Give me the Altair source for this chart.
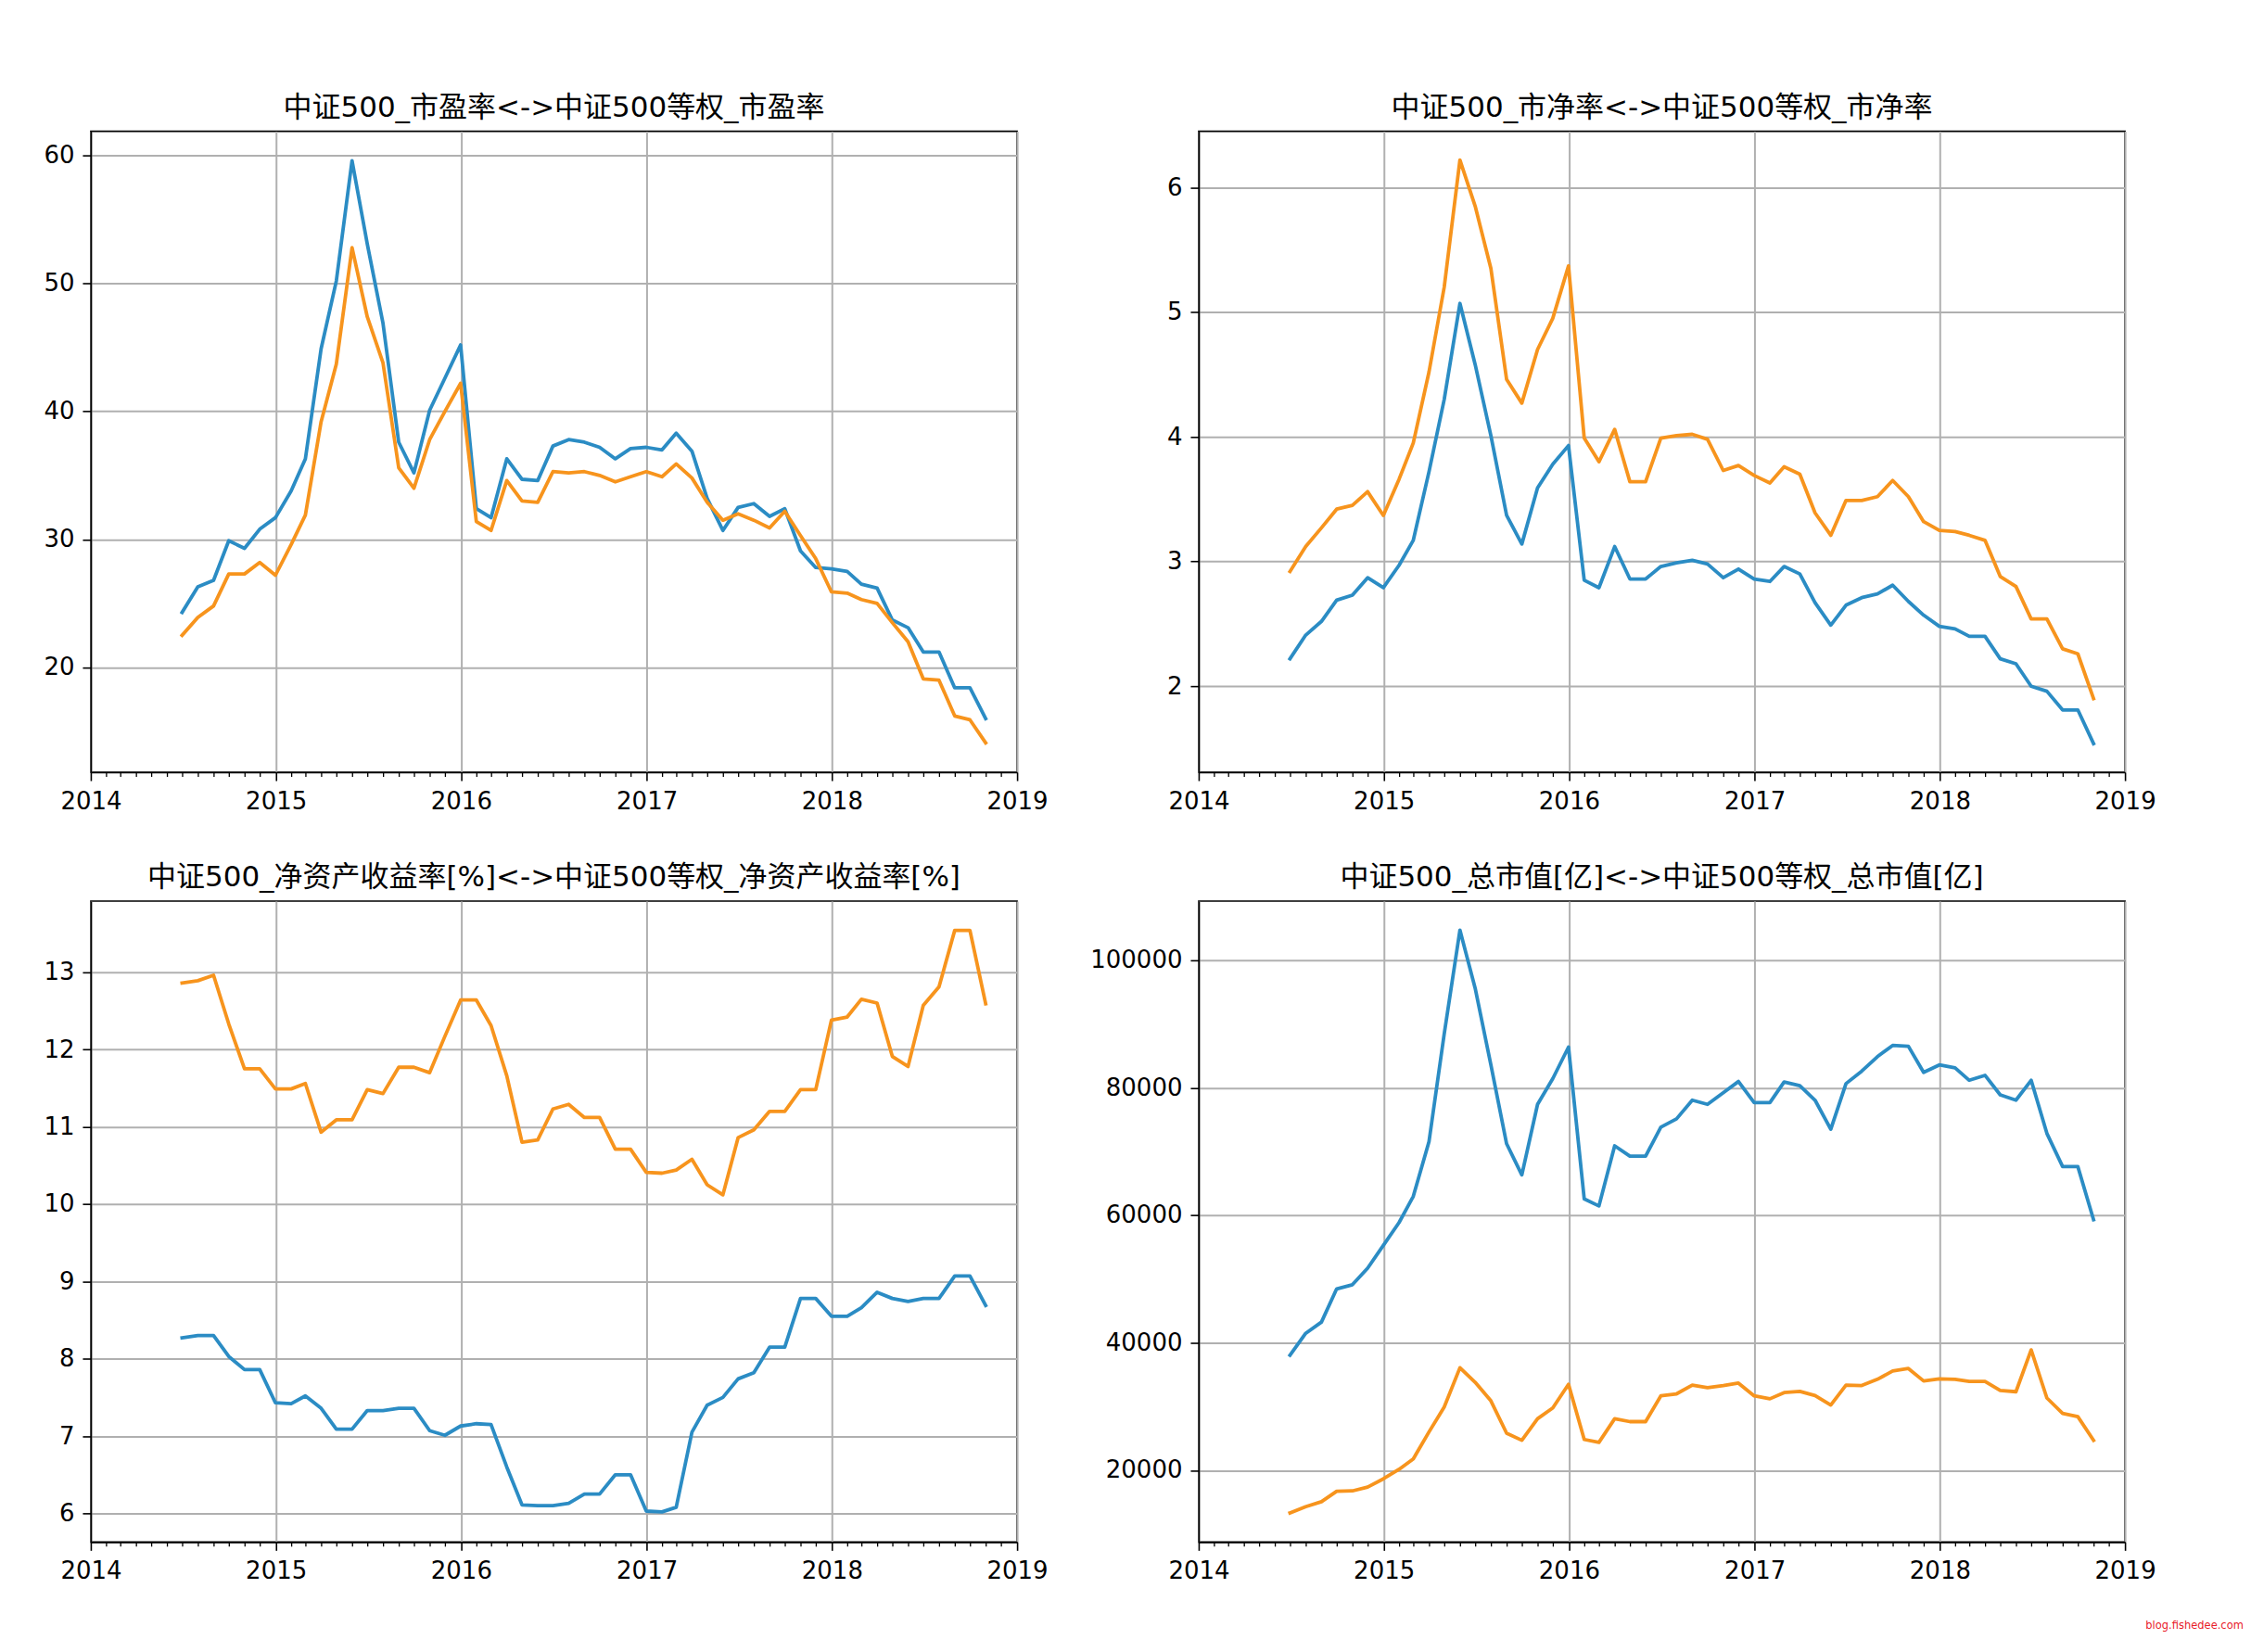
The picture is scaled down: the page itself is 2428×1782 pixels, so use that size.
import altair as alt
import pandas as pd

# ---------------- data ----------------
dates = [
    "2014-06-30", "2014-07-31", "2014-08-31", "2014-09-30", "2014-10-31", "2014-11-30", "2014-12-31",
    "2015-01-31", "2015-02-28", "2015-03-31", "2015-04-30", "2015-05-31", "2015-06-30",
    "2015-07-31", "2015-08-31", "2015-09-30", "2015-10-31", "2015-11-30", "2015-12-31",
    "2016-01-31", "2016-02-29", "2016-03-31", "2016-04-30", "2016-05-31", "2016-06-30",
    "2016-07-31", "2016-08-31", "2016-09-30", "2016-10-31", "2016-11-30", "2016-12-31",
    "2017-01-31", "2017-02-28", "2017-03-31", "2017-04-30", "2017-05-31", "2017-06-30",
    "2017-07-31", "2017-08-31", "2017-09-30", "2017-10-31", "2017-11-30", "2017-12-31",
    "2018-01-31", "2018-02-28", "2018-03-31", "2018-04-30", "2018-05-31", "2018-06-30",
    "2018-07-31", "2018-08-31", "2018-09-30", "2018-10-31",
]

pe_500 = [24.3, 26.3, 26.8, 29.9, 29.3, 30.8, 31.7, 33.8, 36.3, 44.9, 50.2, 59.6, 53.1,
          46.9, 37.6, 35.2, 40.1, 42.6, 45.2, 32.4, 31.7, 36.3, 34.7, 34.6, 37.3,
          37.8, 37.6, 37.2, 36.3, 37.1, 37.2, 37.0, 38.3, 36.9, 33.2, 30.7, 32.5,
          32.8, 31.8, 32.4, 29.1, 27.8, 27.7, 27.5, 26.5, 26.2, 23.7, 23.1, 21.2,
          21.2, 18.4, 18.4, 16.0]
pe_eq = [22.5, 23.9, 24.8, 27.3, 27.3, 28.2, 27.2, 29.6, 31.9, 39.2, 43.7, 52.8, 47.4,
         43.8, 35.6, 34.0, 37.8, 40.0, 42.2, 31.4, 30.7, 34.6, 33.0, 32.9, 35.3,
         35.2, 35.3, 35.0, 34.5, 34.9, 35.3, 34.9, 35.9, 34.8, 32.9, 31.5, 32.0,
         31.5, 30.9, 32.2, 30.3, 28.5, 25.9, 25.8, 25.3, 25.0, 23.5, 22.0, 19.1,
         19.0, 16.2, 15.9, 14.1]

pb_500 = [2.22, 2.41, 2.52, 2.69, 2.73, 2.87, 2.79, 2.97, 3.17, 3.72, 4.30, 5.07, 4.58,
          4.01, 3.37, 3.14, 3.59, 3.78, 3.93, 2.85, 2.79, 3.12, 2.86, 2.86, 2.96,
          2.99, 3.01, 2.98, 2.87, 2.94, 2.86, 2.84, 2.96, 2.90, 2.67, 2.49, 2.65,
          2.71, 2.74, 2.81, 2.68, 2.57, 2.48, 2.46, 2.40, 2.40, 2.22, 2.18, 2.00,
          1.96, 1.81, 1.81, 1.54]
pb_eq = [2.92, 3.12, 3.27, 3.42, 3.45, 3.56, 3.37, 3.66, 3.95, 4.52, 5.20, 6.22, 5.85,
         5.35, 4.46, 4.27, 4.70, 4.95, 5.37, 3.99, 3.80, 4.06, 3.64, 3.64, 3.99,
         4.01, 4.02, 3.98, 3.73, 3.77, 3.69, 3.63, 3.76, 3.70, 3.39, 3.21, 3.49,
         3.49, 3.52, 3.65, 3.52, 3.32, 3.25, 3.24, 3.21, 3.17, 2.88, 2.80, 2.54,
         2.54, 2.30, 2.26, 1.90]

roe_500 = [8.27, 8.30, 8.30, 8.03, 7.86, 7.86, 7.43, 7.42, 7.52, 7.36, 7.09, 7.09, 7.33,
           7.33, 7.36, 7.36, 7.07, 7.01, 7.13, 7.16, 7.15, 6.60, 6.11, 6.10, 6.10,
           6.13, 6.25, 6.25, 6.50, 6.50, 6.03, 6.02, 6.08, 7.05, 7.40, 7.50, 7.74,
           7.82, 8.15, 8.15, 8.78, 8.78, 8.55, 8.55, 8.66, 8.86, 8.78, 8.74, 8.78,
           8.78, 9.07, 9.07, 8.69]
roe_eq = [12.86, 12.89, 12.96, 12.33, 11.75, 11.75, 11.49, 11.49, 11.56, 10.93, 11.09, 11.09, 11.48,
          11.43, 11.77, 11.77, 11.70, 12.17, 12.64, 12.64, 12.31, 11.66, 10.80, 10.83, 11.23,
          11.29, 11.12, 11.12, 10.71, 10.71, 10.41, 10.40, 10.44, 10.58, 10.25, 10.12, 10.86,
          10.96, 11.20, 11.20, 11.48, 11.48, 12.38, 12.42, 12.65, 12.60, 11.91, 11.78, 12.57,
          12.81, 13.54, 13.54, 12.59]

mcap_500 = [38040, 41490, 43250, 48460, 49110, 51710, 55290, 58870, 62970, 71560, 88480, 104750, 95640,
            83600, 71230, 66350, 77420, 81450, 86400, 62580, 61470, 70910, 69280, 69280, 73840,
            75140, 78070, 77420, 79240, 81000, 77680, 77680, 80930, 80350, 78070, 73510, 80670,
            82620, 84900, 86660, 86530, 82430, 83600, 83140, 81190, 81970, 78910, 78070, 81190,
            72860, 67650, 67650, 59320]
mcap_eq = [13310, 14290, 15070, 16700, 16760, 17350, 18650, 20150, 21780, 26010, 29910, 36090, 33810,
           30890, 25810, 24700, 28090, 29780, 33490, 24830, 24380, 28090, 27630, 27630, 31670,
           31990, 33360, 32970, 33290, 33680, 31670, 31210, 32190, 32380, 31730, 30230, 33360,
           33290, 34270, 35570, 35960, 34010, 34340, 34270, 33940, 33940, 32510, 32320, 38890,
           31340, 28930, 28410, 24700]

series_names = ["中证500", "中证500等权"]
titles = [
    "中证500_市盈率<->中证500等权_市盈率",
    "中证500_市净率<->中证500等权_市净率",
    "中证500_净资产收益率[%]<->中证500等权_净资产收益率[%]",
    "中证500_总市值[亿]<->中证500等权_总市值[亿]",
]
y_ticks = [
    [20, 30, 40, 50, 60],
    [2, 3, 4, 5, 6],
    [6, 7, 8, 9, 10, 11, 12, 13],
    [20000, 40000, 60000, 80000, 100000],
]
y_domains = [[11.8, 61.9], [1.31, 6.45], [5.63, 13.92], [8740, 109320]]
year_ticks = [2014, 2015, 2016, 2017, 2018, 2019]
minor_ticks = [f"{y}-{m:02d}-01" for y in range(2014, 2019) for m in range(2, 13)]

panels = [(pe_500, pe_eq), (pb_500, pb_eq), (roe_500, roe_eq), (mcap_500, mcap_eq)]

# ---------------- styling ----------------
W, H = 1000, 692
BLUE, ORANGE = "#2b8cc4", "#f7941d"
FONT = "DejaVu Sans"
TITLE_FONT = "DejaVu Sans, Noto Sans CJK SC"

xscale = alt.Scale(
    type="utc",
    domain=[alt.DateTime(year=2014, month=1, date=1, utc=True),
            alt.DateTime(year=2019, month=1, date=1, utc=True)],
)
year_vals = [alt.DateTime(year=y, month=1, date=1, utc=True) for y in year_ticks]


def x_axis():
    return alt.Axis(values=year_vals, format="%Y", title=None, grid=True,
                    labelFlush=False, labelOverlap=False, labelBound=False)


minor_df = pd.DataFrame({"date": minor_ticks})


def panel(i):
    s1, s2 = panels[i]
    df = pd.DataFrame({
        "date": dates + dates,
        "value": s1 + s2,
        "series": [series_names[0]] * len(dates) + [series_names[1]] * len(dates),
    })
    line = alt.Chart(df).mark_line(strokeWidth=3.8, strokeJoin="round", strokeCap="square").encode(
        x=alt.X("date:T", scale=xscale, axis=x_axis()),
        y=alt.Y("value:Q",
                scale=alt.Scale(domain=y_domains[i], nice=False, zero=False),
                axis=alt.Axis(values=y_ticks[i], format="d", title=None, grid=True)),
        color=alt.Color("series:N", scale=alt.Scale(domain=series_names, range=[BLUE, ORANGE]),
                        legend=None),
    )
    minor = alt.Chart(minor_df).mark_rule(color="black", strokeWidth=1.3).encode(
        x=alt.X("date:T", scale=xscale, axis=x_axis()),
        y=alt.value(H),
        y2=alt.value(H + 5),
    )
    return alt.layer(line, minor).properties(
        width=W, height=H,
        title=alt.TitleParams(text=titles[i], font=TITLE_FONT, fontSize=31,
                              fontWeight="normal", color="black", offset=9, anchor="middle"),
    )


chart = alt.concat(
    *[panel(i) for i in range(4)],
    columns=2,
    spacing={"row": 139, "column": 196},
    bounds="flush",
).properties(
    padding={"left": 38, "top": 91, "right": 0, "bottom": 0},
    title=alt.TitleParams(text="blog.fishedee.com", orient="bottom", anchor="end",
                          color="#e8202a", fontSize=11.5, font=FONT, fontWeight="normal",
                          dx=94, offset=40),
).configure_axis(
    labelFont=FONT, labelFontSize=26, labelColor="black", labelPadding=9,
    tickColor="black", tickSize=9, tickWidth=1.6,
    domainColor="black", domainWidth=1.6,
    gridColor="#b0b0b0", gridWidth=2,
).configure_view(
    stroke="black", strokeWidth=1.6,
)

chart.save("out.html", embed_options={"renderer": "svg", "actions": False})
